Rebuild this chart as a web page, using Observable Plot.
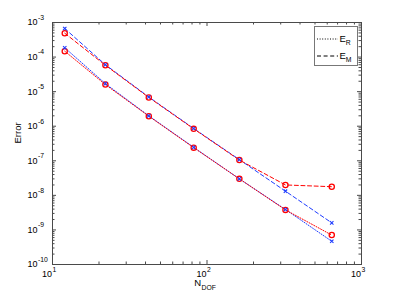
<!DOCTYPE html>
<html><head><meta charset="utf-8">
<script src="https://cdn.jsdelivr.net/npm/d3@7"></script>
<script src="https://cdn.jsdelivr.net/npm/@observablehq/plot@0.6"></script>
<style>
body{margin:0;background:#fff;}
#wrap{position:relative;width:399px;height:300px;font-family:"Liberation Sans",Arial,sans-serif;}
#legend{position:absolute;left:314px;top:26px;width:42px;height:38px;border:1.5px solid #777;background:#fff;}
</style>
</head><body><div id="wrap"></div>
<script>
// Data
const nDof = [12, 22, 42, 82, 162, 322, 642];
const eR_blue = [1.86e-4, 1.7e-5, 2.0e-6, 2.45e-7, 3.0e-8, 3.9e-9, 4.7e-10];
const eR_red  = [1.48e-4, 1.6e-5, 1.95e-6, 2.4e-7, 3.0e-8, 3.8e-9, 7.1e-10];
const eM_blue = [6.7e-4, 6.0e-5, 7.0e-6, 8.6e-7, 1.08e-7, 1.32e-8, 1.6e-9];
const eM_red  = [4.9e-4, 5.8e-5, 6.8e-6, 8.4e-7, 1.05e-7, 2.0e-8, 1.78e-8];
const xTickExps = [1, 2, 3];
const yTickExps = [-3, -4, -5, -6, -7, -8, -9, -10];
const legendLabels = [["E", "R"], ["E", "M"]];

const table = (ys) => nDof.map((x, i) => ({x, y: ys[i]}));
const axisColor = "#4a4a4a";
const W = 399, H = 300, mL = 52, mR = 38, mT = 22, mB = 36;
const fw = W - mL - mR, fh = H - mT - mB;

const xMajor = xTickExps.map(e => 10 ** e);
const yMajor = yTickExps.map(e => 10 ** e);
const xMinor = [], yMinor = [];
for (let e = 1; e < 3; e++) for (let k = 2; k <= 9; k++) xMinor.push(k * 10 ** e);
for (let e = -10; e < -3; e++) for (let k = 2; k <= 9; k++) yMinor.push(k * 10 ** e);

const red = "#ff0000", blue = "#1f3dff";
const dotted = "1,1.6", dashed = "4,2.6";

const chart = Plot.plot({
  width: W, height: H, marginLeft: mL, marginRight: mR, marginTop: mT, marginBottom: mB,
  x: {type: "log", domain: [10, 1000], axis: null},
  y: {type: "log", domain: [1e-10, 1e-3], axis: null},
  style: {fontFamily: '"Liberation Sans", Arial, sans-serif', fontSize: "9px", background: "white", color: "black"},
  marks: [
    // ticks (inward, on all four sides)
    Plot.ruleX(xMajor, {stroke: axisColor, insetTop: fh - 4}),
    Plot.ruleX(xMajor, {stroke: axisColor, insetBottom: fh - 4}),
    Plot.ruleX(xMinor, {stroke: axisColor, insetTop: fh - 2.5}),
    Plot.ruleX(xMinor, {stroke: axisColor, insetBottom: fh - 2.5}),
    Plot.ruleY(yMajor, {stroke: axisColor, insetRight: fw - 4}),
    Plot.ruleY(yMajor, {stroke: axisColor, insetLeft: fw - 4}),
    Plot.ruleY(yMinor, {stroke: axisColor, insetRight: fw - 2.5}),
    Plot.ruleY(yMinor, {stroke: axisColor, insetLeft: fw - 2.5}),
    Plot.frame({stroke: axisColor}),
    // series lines
    Plot.line(table(eR_blue), {x: "x", y: "y", stroke: blue, strokeWidth: 1, strokeDasharray: dotted}),
    Plot.line(table(eR_red), {x: "x", y: "y", stroke: red, strokeWidth: 1, strokeDasharray: dotted}),
    Plot.line(table(eM_blue), {x: "x", y: "y", stroke: blue, strokeWidth: 1, strokeDasharray: dashed}),
    Plot.line(table(eM_red), {x: "x", y: "y", stroke: red, strokeWidth: 1, strokeDasharray: dashed}),
    // markers
    Plot.dot(table(eR_red), {x: "x", y: "y", stroke: red, strokeWidth: 1.3, r: 2.6}),
    Plot.dot(table(eM_red), {x: "x", y: "y", stroke: red, strokeWidth: 1.3, r: 2.6}),
    Plot.dot(table(eR_blue), {x: "x", y: "y", stroke: blue, strokeWidth: 1.1, symbol: "times", r: 1.7}),
    Plot.dot(table(eM_blue), {x: "x", y: "y", stroke: blue, strokeWidth: 1.1, symbol: "times", r: 1.7}),
    // y tick labels
    Plot.text(yTickExps, {frameAnchor: "left", y: d => 10 ** d, text: () => "10", textAnchor: "end", dx: -15, fontSize: 9}),
    Plot.text(yTickExps, {frameAnchor: "left", y: d => 10 ** d, text: d => String(d), textAnchor: "start", dx: -14.6, dy: -4.8, fontSize: 6.8}),
    // x tick labels
    Plot.text(xTickExps, {frameAnchor: "bottom", x: d => 10 ** d, text: () => "10", textAnchor: "end", dx: -0.5, dy: 12, fontSize: 9}),
    Plot.text(xTickExps, {frameAnchor: "bottom", x: d => 10 ** d, text: d => String(d), textAnchor: "start", dx: 0, dy: 7.3, fontSize: 6.8}),
    // axis labels
    Plot.text(["Error"], {frameAnchor: "left", text: d => d, rotate: -90, dx: -35, fontSize: 9.5}),
    Plot.text(["N"], {frameAnchor: "bottom", text: d => d, textAnchor: "end", dx: -6, dy: 21.5, fontSize: 9.5}),
    Plot.text(["DOF"], {frameAnchor: "bottom", text: d => d, textAnchor: "start", dx: -5.5, dy: 25, fontSize: 6.8})
  ]
});
const wrap = document.getElementById("wrap");
wrap.appendChild(chart);

// legend (inside axes, top-right)
const leg = document.createElement("div");
leg.id = "legend";
const dashes = [dotted, dashed];
leg.innerHTML = legendLabels.map((lab, i) =>
  `<svg width="42" height="19" style="display:block">
     <line x1="2" x2="23" y1="${i === 0 ? 12 : 10}" y2="${i === 0 ? 12 : 10}" stroke="black" stroke-width="1" stroke-dasharray="${dashes[i]}"/>
     <text x="24.5" y="${i === 0 ? 15 : 13}" font-size="9.5" font-family='"Liberation Sans", Arial, sans-serif'>${lab[0]}<tspan font-size="6.8" dy="3">${lab[1]}</tspan></text>
   </svg>`).join("");
wrap.appendChild(leg);
</script>
</body></html>
